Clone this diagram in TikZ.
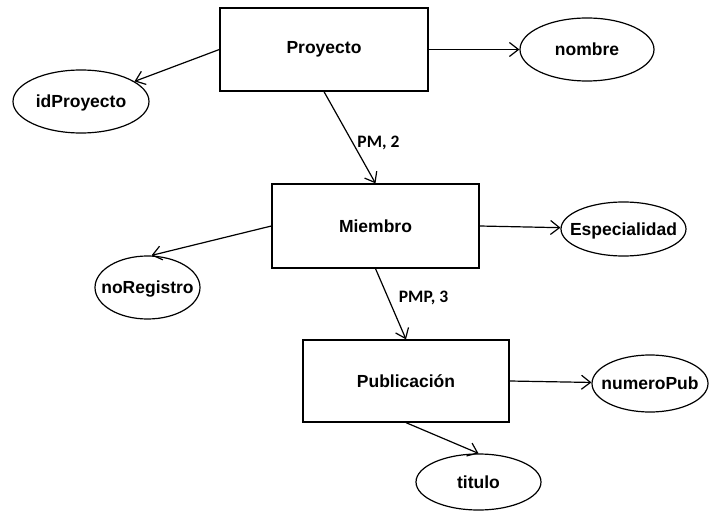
\documentclass[tikz,border=0pt]{standalone}
\usepackage{fontspec}
\setmainfont{Liberation Sans}
\newfontfamily\lblfont{Carlito}
\usetikzlibrary{arrows.meta,shapes.geometric}
% attribute names keep the ellipse at its set size, even when they are wider
\newcommand\attname[1]{\makebox[0pt]{\raisebox{-0.36em}[0pt][0pt]{#1}}}
\begin{document}
\begin{tikzpicture}[x=1pt,y=-1pt,
  every node/.style={font=\fontsize{17.5}{20}\selectfont\bfseries},
  entity/.style={draw,line width=1.3pt,rectangle,inner sep=0pt},
  attrib/.style={draw,line width=1.2pt,ellipse,inner sep=0pt},
  link/.style={line width=1.2pt,-{Straight Barb[length=9pt,width=14pt]}},
  card/.style={font=\lblfont\fontsize{17.5}{20}\selectfont\bfseries,inner sep=0pt,anchor=west}]
\useasboundingbox (0,0) rectangle (709,513);

% entities
\node[entity,minimum width=208pt,minimum height=83pt] (proy) at (324,49.5) {Proyecto};
\node[entity,minimum width=207pt,minimum height=84pt] (miem) at (375.5,226) {Miembro};
\node[entity,minimum width=206pt,minimum height=82pt] (pub) at (406,381) {Publicación};

% attributes
\node[attrib,minimum width=136pt,minimum height=63pt] (idp) at (81,101.5) {\attname{idProyecto}};
\node[attrib,minimum width=134pt,minimum height=63pt] (nom) at (587,49.5) {\attname{nombre}};
\node[attrib,minimum width=125pt,minimum height=54pt] (esp) at (623.5,229) {\attname{Especialidad}};
\node[attrib,minimum width=105pt,minimum height=63pt] (noreg) at (147.5,287.5) {\attname{noRegistro}};
\node[attrib,minimum width=116pt,minimum height=57pt] (num) at (650,383.5) {\attname{numeroPub}};
\node[attrib,minimum width=125pt,minimum height=56pt] (tit) at (478.5,482) {\attname{titulo}};

% connectors
\draw[link] (proy.west) -- (idp);
\draw[link] (proy.east) -- (nom.west);
\draw[link] (proy.south) -- node[card,pos=0.56,xshift=4pt] (pm) {PM, 2} (miem.north);
\draw[link] (miem.west) -- ([xshift=4pt]noreg.north);
\draw[link] (miem.east) -- (esp);
\draw[link] (miem.south) -- node[card,pos=0.42,xshift=10pt] (pmp) {PMP, 3} (pub.north);
\draw[link] (pub.east) -- (num);
\draw[link] (pub.south) -- (tit.north);
\end{tikzpicture}
\end{document}
